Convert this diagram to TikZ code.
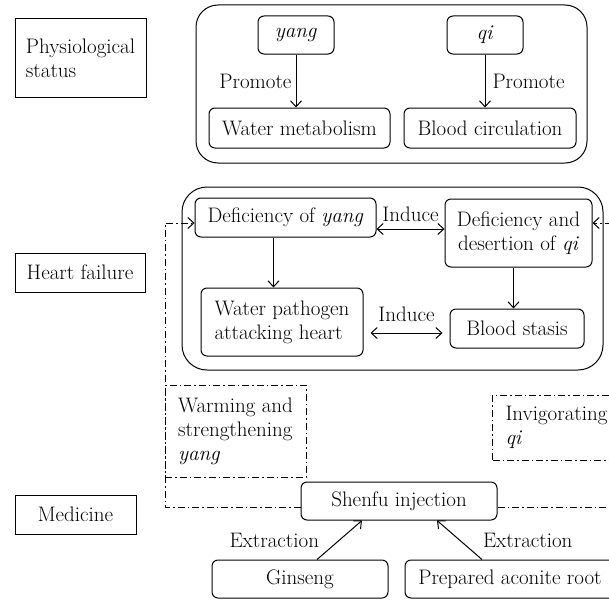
\documentclass[tikz,border=0pt]{standalone}
\usetikzlibrary{arrows.meta}
\begin{document}
\begin{tikzpicture}[x=1pt, y=-1pt, line width=1pt,
    >={Straight Barb[length=6pt,width=11pt]},
    every node/.style={font=\fontsize{21}{24}\selectfont, inner sep=0pt},
    sqbox/.style={draw, align=left},
    rbox/.style={draw, rounded corners=6pt, align=center},
    dashdot/.style={dash pattern=on 7pt off 3pt on 1.5pt off 3pt}]
    \useasboundingbox (0,0) rectangle (609,602);
    \clip (0,0) rectangle (609,602);
    % Left column labels
    \node[sqbox, minimum width=131pt, minimum height=78pt] (phys) at (80.5,58) {Physiological\\status};
    \node[sqbox, minimum width=130pt, minimum height=39pt] (heart) at (80,272.5) {Heart failure};
    \node[sqbox, minimum width=121pt, minimum height=39pt] (medicine) at (75.5,514.5) {Medicine};
    % Physiological status
    \node[draw, rounded corners=22pt, minimum width=391pt, minimum height=158pt] (physgroup) at (391.5,84) {};
    \node[rbox, minimum width=76pt, minimum height=38pt] (yang) at (296,35) {\textit{yang}};
    \node[rbox, minimum width=76pt, minimum height=38pt] (qi) at (485,35) {\textit{qi}};
    \node[rbox, minimum width=181pt, minimum height=40pt] (watmet) at (299.5,128) {Water metabolism};
    \node[rbox, minimum width=172pt, minimum height=40pt] (bloodcirc) at (490,128) {Blood circulation};
    \draw[->] (yang.south) -- (yang.south |- watmet.north) node[midway, left=4pt] {Promote};
    \draw[->] (qi.south) -- (qi.south |- bloodcirc.north) node[midway, right=7pt] {Promote};
    % Heart failure
    \node[draw, rounded corners=25pt, minimum width=421pt, minimum height=183pt] (hfgroup) at (392.5,278.5) {};
    \node[rbox, minimum width=181pt, minimum height=39pt] (defyang) at (285.5,217.5) {Deficiency of \textit{yang}};
    \node[rbox, minimum width=147pt, minimum height=68pt] (defqi) at (518.5,233) {Deficiency and\\desertion of \textit{qi}};
    \node[rbox, minimum width=162pt, minimum height=68pt, align=left] (watpath) at (282,322) {Water pathogen\\attacking heart};
    \node[rbox, minimum width=134pt, minimum height=39pt] (stasis) at (517,328.5) {Blood stasis};
    \draw[->] ([xshift=-12pt]defyang.south) -- ([xshift=-12pt]defyang.south |- watpath.north);
    \draw[->] ([xshift=-5pt]defqi.south) -- ([xshift=-5pt]defqi.south |- stasis.north);
    \coordinate (ind1) at (0,229);
    \coordinate (ind2) at (0,333);
    \draw[<->] (defyang.east |- ind1) -- (defqi.west |- ind1) node[midway, above=7pt] {Induce};
    \draw[<->] ([xshift=7pt]watpath.east |- ind2) -- ([xshift=-7pt]stasis.west |- ind2) node[midway, above=11pt] {Induce};
    % Medicine
    \node[draw, dashdot, minimum width=141pt, minimum height=92pt, align=left] (warming) at (235.5,431) {Warming and\\strengthening\\\textit{yang}};
    \node[draw, dashdot, anchor=west, minimum height=65pt, text width=130pt, inner xsep=13pt, align=left] (invig) at (492,427.5) {Invigorating\\\textit{qi}};
    \node[rbox, minimum width=196pt, minimum height=38pt] (shenfu) at (399,501) {Shenfu injection};
    \node[rbox, minimum width=176pt, minimum height=38pt] (ginseng) at (300,579) {Ginseng};
    \node[rbox, minimum width=210pt, minimum height=38pt] (aconite) at (510,579) {Prepared aconite root};
    \draw[->] ([xshift=17pt]ginseng.north) -- ([xshift=-37pt]shenfu.south) node[midway, left=20pt] {Extraction};
    \draw[->] ([xshift=-28pt]aconite.north) -- ([xshift=38pt]shenfu.south) node[midway, right=23pt] {Extraction};
    % Dash-dot feedback lines
    \coordinate (hfin) at (165,223);
    \coordinate (hfout) at (630,223);
    \draw[dashdot, ->] ([yshift=-6pt]shenfu.west) -| (hfin) -- (defyang.west |- hfin);
    \draw[dashdot, ->] ([yshift=-6pt]shenfu.east) -| (hfout) -- (defqi.east |- hfin);
\end{tikzpicture}
\end{document}
